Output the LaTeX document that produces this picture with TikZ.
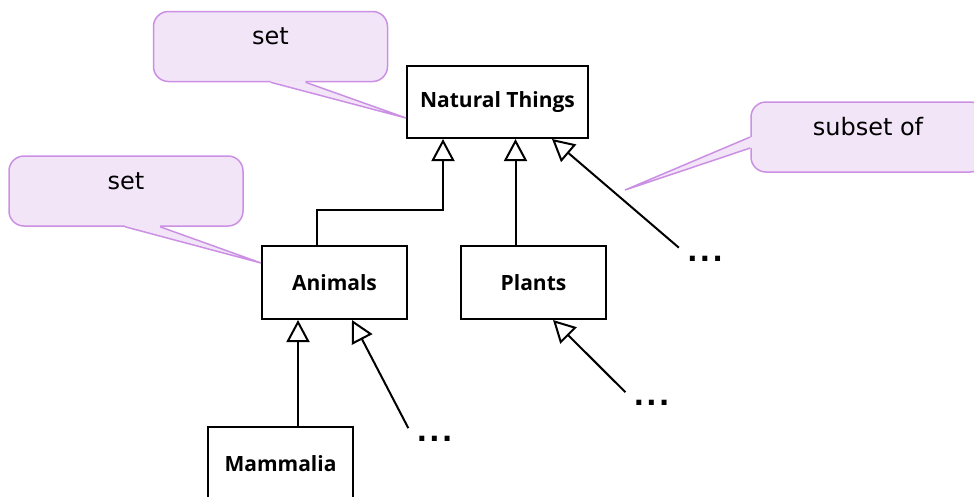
\documentclass[tikz,border=0pt]{standalone}
\usepackage{fontspec}
\setmainfont{DejaVu Sans}
\newfontfamily\classfont{Open Sans}
\usetikzlibrary{arrows.meta}

\definecolor{notefill}{RGB}{243,229,248}
\definecolor{noteline}{RGB}{203,144,228}

\begin{document}
\begin{tikzpicture}[x=1pt,y=-1pt]
		\newcommand{\crad}{15pt} % corner radius of the notes
		\newcommand{\lw}{2pt} % width of the black lines

		% set the styles of boxes, notes and arrows
		\tikzset{
			thing/.style={
				draw,
				fill=white,
				line width=\lw,
				minimum width=145pt,
				minimum height=73pt,
				inner sep=0pt,
				font=\classfont\fontsize{21}{24}\selectfont\bfseries
				},
			note/.style={
				draw=noteline,
				fill=notefill,
				line width=1.5pt,
				rounded corners=\crad,
				minimum width=234pt,
				inner sep=0pt,
				text height=33pt,
				text depth=37pt,
				font=\fontsize{24}{28}\selectfont
				},
			tail/.style={
				draw=noteline,
				line width=1.5pt
				},
			isa/.style={
				-{Triangle[open, width=23pt, length=22pt]},
				line width=\lw
				},
			more/.style={
				inner sep=8pt,
				font=\fontsize{28}{30}\selectfont\bfseries
				}
		}

		\useasboundingbox (0,0) rectangle (974,496);

		% classes
		\node[thing, minimum width=181pt, minimum height=72pt] (nt) at (497.5,102) {Natural Things};
		\node[thing] (animals) at (334.5,282.5) {Animals};
		\node[thing] (plants) at (533.5,282.5) {Plants};
		\node[thing] (mammalia) at (280.5,463.5) {Mammalia};

		% open ends
		\node[more] (more1) at (705,258.5) {.\kern2pt.\kern2pt.};
		\node[more] (more2) at (434.5,439) {.\kern2pt.\kern2pt.};
		\node[more] (more3) at (651.5,403) {.\kern2pt.\kern2pt.};

		% generalisations
		\draw[isa] ([xshift=-18pt]animals.north) -- ++(0,-35) -| ([xshift=-54.5pt]nt.south);
		\draw[isa] ([xshift=-18pt]plants.north) -- ([xshift=-18pt]plants.north |- nt.south);
		\draw[isa] (more1.north west) -- ([xshift=54.5pt]nt.south);
		\draw[isa] ([xshift=17.5pt]mammalia.north) -- ([xshift=17.5pt]mammalia.north |- animals.south);
		\draw[isa] (more2.north west) -- ([xshift=17.5pt]animals.south);
		\draw[isa] (more3.north west) -- ([xshift=19.5pt]plants.south);

		% notes
		\node[note] (setnt) at (270.5,46.5) {set};
		\node[note] (setan) at (126,191) {set};
		\node[note] (subof) at (868,137) {subset of};
		\coordinate (subtip) at (625,190);

		% tails of the notes
		\fill[notefill] ([yshift=2pt]setnt.south) -- (setnt.south) -- ([yshift=-16pt]nt.west) -- ([xshift=35pt]setnt.south) -- ([shift={(35pt,2pt)}]setnt.south) -- cycle;
		\draw[tail] (setnt.south) -- ([yshift=-16pt]nt.west) -- ([xshift=35pt]setnt.south);

		\fill[notefill] ([shift={(-1pt,2pt)}]setan.south) -- ([xshift=-1pt]setan.south) -- ([yshift=19.5pt]animals.west) -- ([xshift=34pt]setan.south) -- ([shift={(34pt,2pt)}]setan.south) -- cycle;
		\draw[tail] ([xshift=-1pt]setan.south) -- ([yshift=19.5pt]animals.west) -- ([xshift=34pt]setan.south);

		\fill[notefill] ([xshift=2pt]subof.west) -- (subof.west) -- (subtip) -- ([yshift=-11pt]subof.west) -- ([shift={(2pt,-11pt)}]subof.west) -- cycle;
		\draw[tail] (subof.west) -- (subtip) -- ([yshift=-11pt]subof.west);

\end{tikzpicture}
\end{document}
